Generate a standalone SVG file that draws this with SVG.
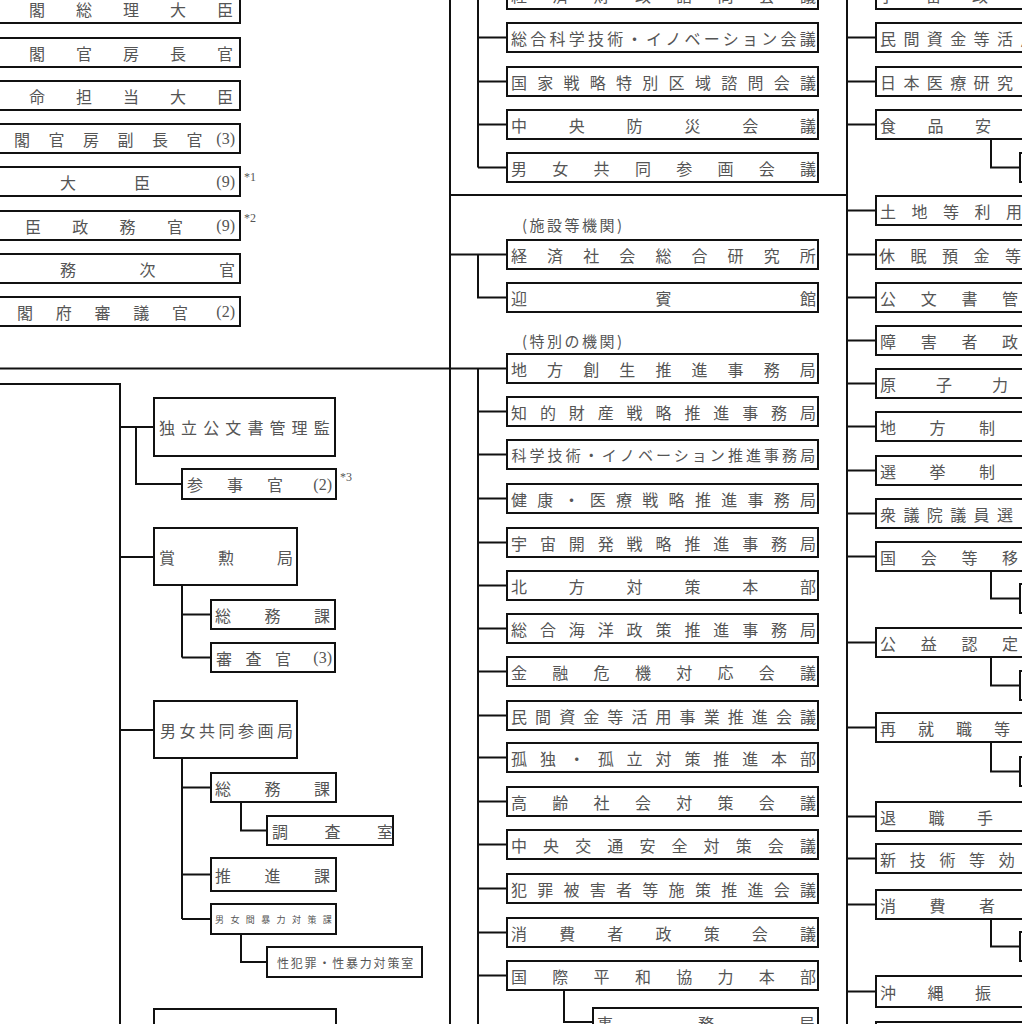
<svg xmlns="http://www.w3.org/2000/svg" width="1022" height="1024" viewBox="0 0 1022 1024">
<style>
.bx{fill:#fff;stroke:#111;stroke-width:2}
.ln{fill:none;stroke:#111;stroke-width:2}
.t{font-family:"Noto Sans CJK JP","Noto Sans CJK SC",sans-serif;font-size:16px;fill:#555;dominant-baseline:central}
.p{font-family:"Liberation Serif",serif;font-size:16px;fill:#555;dominant-baseline:central;text-anchor:end}
.n{font-family:"Liberation Serif",serif;font-size:12px;fill:#555}
.lb{font-family:"Noto Sans CJK JP","Noto Sans CJK SC",sans-serif;font-size:15px;fill:#555;dominant-baseline:central;letter-spacing:2.5px}
</style>
<rect width="1022" height="1024" fill="#fff"/>
<g id="connectors">
<path class="ln" d="M450 0V1024"/>
<path class="ln" d="M478 0V167.5M478 37.5H507M478 81.5H507M478 124.5H507M478 167.5H507"/>
<path class="ln" d="M450 195H847"/>
<path class="ln" d="M450 254.5H507M478 254.5V297.5H507"/>
<path class="ln" d="M0 368.5H507M478 368.5V1024"/>
<path class="ln" d="M478 411.5H507M478 454.5H507M478 498.5H507M478 542.5H507M478 585.5H507M478 628.5H507M478 671.5H507M478 715.5H507M478 757.5H507M478 801.5H507M478 844.5H507M478 888.5H507M478 932.5H507M478 975.5H507"/>
<path class="ln" d="M564 990V1022H593"/>
<path class="ln" d="M847 0V1024"/>
<path class="ln" d="M847 37.5H876M847 81.5H876M847 124.5H876M847 210.5H876M847 254.5H876M847 297.5H876M847 340.5H876M847 383.5H876M847 426.5H876M847 470.5H876M847 513.5H876M847 556.5H876M847 642.5H876M847 727.5H876M847 816.5H876M847 858.5H876M847 904.5H876M847 991.5H876"/>
<path class="ln" d="M991 139V167.5H1020M991 571V598.5H1020M991 657V685.5H1020M991 742V771.5H1020M991 919V946.5H1020"/>
<path class="ln" d="M0 384H120V1024"/>
<path class="ln" d="M120 427H154M136 427V484H182"/>
<path class="ln" d="M120 557H154M182 585V657.5M182 614.5H211M182 657.5H211"/>
<path class="ln" d="M120 730H154M182 758V919M182 787.5H211M182 874.5H211M182 919H211"/>
<path class="ln" d="M241 802V830.5H267M241 934V962H267"/>
</g>
<g id="cab-pm"><rect class="bx" x="-10" y="-6" width="250" height="29"/><text class="t" x="29" y="8.5" letter-spacing="31">閣総理大臣</text></g>
<g id="cab-cs"><rect class="bx" x="-10" y="38" width="250" height="29"/><text class="t" x="29" y="52.5" letter-spacing="31">閣官房長官</text></g>
<g id="cab-sp"><rect class="bx" x="-10" y="81" width="250" height="29"/><text class="t" x="29" y="95.5" letter-spacing="31">命担当大臣</text></g>
<g id="cab-dcs"><rect class="bx" x="-10" y="124" width="250" height="29"/><text class="t" x="14" y="138.5" letter-spacing="18.5">閣官房副長官</text><text class="p" x="235" y="138.5">(3)</text></g>
<g id="cab-vm"><rect class="bx" x="-10" y="167" width="250" height="29"/><text class="t" x="60" y="181.5" letter-spacing="58">大臣</text><text class="p" x="235" y="181.5">(9)</text><text class="n" x="244" y="181">*1</text></g>
<g id="cab-pv"><rect class="bx" x="-10" y="211" width="250" height="29"/><text class="t" x="25" y="225.5" letter-spacing="31.3">臣政務官</text><text class="p" x="235" y="225.5">(9)</text><text class="n" x="244" y="222">*2</text></g>
<g id="cab-av"><rect class="bx" x="-10" y="254" width="250" height="29"/><text class="t" x="60" y="268.5" letter-spacing="63.5">務次官</text></g>
<g id="cab-co"><rect class="bx" x="-10" y="297" width="250" height="29"/><text class="t" x="17" y="311.5" letter-spacing="22.75">閣府審議官</text><text class="p" x="235" y="311.5">(2)</text></g>
<g id="m01"><rect class="bx" x="507" y="-20" width="311" height="29"/><text class="t" x="511" y="-5.5" letter-spacing="25.3">経済財政諮問会議</text></g>
<g id="m02"><rect class="bx" x="507" y="23" width="311" height="29"/><text class="t" x="511" y="37.5" letter-spacing="3.27">総合科学技術・イノベーション会議</text></g>
<g id="m03"><rect class="bx" x="507" y="67" width="311" height="29"/><text class="t" x="511" y="81.5" letter-spacing="10.27">国家戦略特別区域諮問会議</text></g>
<g id="m04"><rect class="bx" x="507" y="110" width="311" height="29"/><text class="t" x="511" y="124.5" letter-spacing="41.8">中央防災会議</text></g>
<g id="m05"><rect class="bx" x="507" y="153" width="311" height="29"/><text class="t" x="511" y="167.5" letter-spacing="25.3">男女共同参画会議</text></g>
<g id="lbl-fac"><text class="lb" x="522" y="224">(施設等機関)</text></g>
<g id="m06"><rect class="bx" x="507" y="240" width="311" height="29"/><text class="t" x="511" y="254.5" letter-spacing="20.1">経済社会総合研究所</text></g>
<g id="m07"><rect class="bx" x="507" y="283" width="311" height="29"/><text class="t" x="511" y="297.5" letter-spacing="128.5">迎賓館</text></g>
<g id="lbl-spc"><text class="lb" x="522" y="340">(特別の機関)</text></g>
<g id="m08"><rect class="bx" x="507" y="354" width="311" height="29"/><text class="t" x="511" y="368.5" letter-spacing="20.1">地方創生推進事務局</text></g>
<g id="m09"><rect class="bx" x="507" y="397" width="311" height="29"/><text class="t" x="511" y="411.5" letter-spacing="12.9">知的財産戦略推進事務局</text></g>
<g id="m10"><rect class="bx" x="507" y="440" width="311" height="29"/><text class="t" x="511.5" y="454.5" style="font-size:15px" letter-spacing="3.06">科学技術・イノベーション推進事務局</text></g>
<g id="m11"><rect class="bx" x="507" y="484" width="311" height="29"/><text class="t" x="511" y="498.5" letter-spacing="10.27">健康・医療戦略推進事務局</text></g>
<g id="m12"><rect class="bx" x="507" y="528" width="311" height="29"/><text class="t" x="511" y="542.5" letter-spacing="12.9">宇宙開発戦略推進事務局</text></g>
<g id="m13"><rect class="bx" x="507" y="571" width="311" height="29"/><text class="t" x="511" y="585.5" letter-spacing="41.8">北方対策本部</text></g>
<g id="m14"><rect class="bx" x="507" y="614" width="311" height="29"/><text class="t" x="511" y="628.5" letter-spacing="12.9">総合海洋政策推進事務局</text></g>
<g id="m15"><rect class="bx" x="507" y="657" width="311" height="29"/><text class="t" x="511" y="671.5" letter-spacing="25.3">金融危機対応会議</text></g>
<g id="m16"><rect class="bx" x="507" y="701" width="311" height="29"/><text class="t" x="511" y="715.5" letter-spacing="8.08">民間資金等活用事業推進会議</text></g>
<g id="m17"><rect class="bx" x="507" y="743" width="311" height="29"/><text class="t" x="511" y="757.5" letter-spacing="12.9">孤独・孤立対策推進本部</text></g>
<g id="m18"><rect class="bx" x="507" y="787" width="311" height="29"/><text class="t" x="511" y="801.5" letter-spacing="25.3">高齢社会対策会議</text></g>
<g id="m19"><rect class="bx" x="507" y="830" width="311" height="29"/><text class="t" x="511" y="844.5" letter-spacing="16.1">中央交通安全対策会議</text></g>
<g id="m20"><rect class="bx" x="507" y="874" width="311" height="29"/><text class="t" x="511" y="888.5" letter-spacing="10.27">犯罪被害者等施策推進会議</text></g>
<g id="m21"><rect class="bx" x="507" y="918" width="311" height="29"/><text class="t" x="511" y="932.5" letter-spacing="32.17">消費者政策会議</text></g>
<g id="m22"><rect class="bx" x="507" y="961" width="311" height="29"/><text class="t" x="511" y="975.5" letter-spacing="25.3">国際平和協力本部</text></g>
<g id="m23"><rect class="bx" x="593" y="1008" width="225" height="29"/><text class="t" x="597" y="1022.5" letter-spacing="85">事務局</text></g>
<g id="r00"><rect class="bx" x="876" y="-20" width="200" height="29"/><text class="t" x="879" y="-5.5" letter-spacing="30.5">宇宙政</text></g>
<g id="r01"><rect class="bx" x="876" y="23" width="200" height="29"/><text class="t" x="880" y="37.5" letter-spacing="7.4">民間資金等活用</text></g>
<g id="r02"><rect class="bx" x="876" y="67" width="200" height="29"/><text class="t" x="880" y="81.5" letter-spacing="7.4">日本医療研究</text></g>
<g id="r03"><rect class="bx" x="876" y="110" width="200" height="29"/><text class="t" x="880" y="124.5" letter-spacing="31.5">食品安</text></g>
<g id="r03s"><rect class="bx" x="1020" y="153" width="100" height="29"/></g>
<g id="r04"><rect class="bx" x="876" y="196" width="200" height="29"/><text class="t" x="880" y="210.5" letter-spacing="15.5">土地等利用</text></g>
<g id="r05"><rect class="bx" x="876" y="240" width="200" height="29"/><text class="t" x="879" y="254.5" letter-spacing="15.5">休眠預金等</text></g>
<g id="r06"><rect class="bx" x="876" y="283" width="200" height="29"/><text class="t" x="880" y="297.5" letter-spacing="24.7">公文書管</text></g>
<g id="r07"><rect class="bx" x="876" y="326" width="200" height="29"/><text class="t" x="880" y="340.5" letter-spacing="24.7">障害者政</text></g>
<g id="r08"><rect class="bx" x="876" y="369" width="200" height="29"/><text class="t" x="880" y="383.5" letter-spacing="40">原子力</text></g>
<g id="r09"><rect class="bx" x="876" y="412" width="200" height="29"/><text class="t" x="880" y="426.5" letter-spacing="33.5">地方制</text></g>
<g id="r10"><rect class="bx" x="876" y="456" width="200" height="29"/><text class="t" x="880" y="470.5" letter-spacing="33.5">選挙制</text></g>
<g id="r11"><rect class="bx" x="876" y="499" width="200" height="29"/><text class="t" x="880" y="513.5" letter-spacing="7.4">衆議院議員選</text></g>
<g id="r12"><rect class="bx" x="876" y="542" width="200" height="29"/><text class="t" x="880" y="556.5" letter-spacing="24.7">国会等移</text></g>
<g id="r12s"><rect class="bx" x="1020" y="584" width="100" height="29"/></g>
<g id="r13"><rect class="bx" x="876" y="628" width="200" height="29"/><text class="t" x="880" y="642.5" letter-spacing="24.7">公益認定</text></g>
<g id="r13s"><rect class="bx" x="1020" y="671" width="100" height="29"/></g>
<g id="r14"><rect class="bx" x="876" y="713" width="200" height="29"/><text class="t" x="880" y="727.5" letter-spacing="22">再就職等</text></g>
<g id="r14s"><rect class="bx" x="1020" y="757" width="100" height="29"/></g>
<g id="r15"><rect class="bx" x="876" y="802" width="200" height="29"/><text class="t" x="880" y="816.5" letter-spacing="32.5">退職手</text></g>
<g id="r16"><rect class="bx" x="876" y="844" width="200" height="29"/><text class="t" x="880" y="858.5" letter-spacing="13.7">新技術等効</text></g>
<g id="r17"><rect class="bx" x="876" y="890" width="200" height="29"/><text class="t" x="880" y="904.5" letter-spacing="33.5">消費者</text></g>
<g id="r17s"><rect class="bx" x="1020" y="932" width="100" height="29"/></g>
<g id="r18"><rect class="bx" x="876" y="976" width="200" height="31"/><text class="t" x="880" y="991.5" letter-spacing="31.5">沖縄振</text></g>
<g id="r19"><rect class="bx" x="876" y="1022" width="200" height="29"/></g>
<g id="l-kobunsho"><rect class="bx" x="154" y="398" width="181" height="58"/><text class="t" x="159" y="427" letter-spacing="6.1">独立公文書管理監</text></g>
<g id="l-sanjikan"><rect class="bx" x="182" y="469" width="154" height="30"/><text class="t" x="187" y="484" letter-spacing="24">参事官</text><text class="p" x="332" y="484">(2)</text><text class="n" x="340" y="481">*3</text></g>
<g id="l-shokun"><rect class="bx" x="154" y="528" width="143" height="57"/><text class="t" x="159" y="557" letter-spacing="43">賞勲局</text></g>
<g id="l-shokun-somu"><rect class="bx" x="211" y="600" width="124" height="29"/><text class="t" x="215" y="614.5" letter-spacing="33.5">総務課</text></g>
<g id="l-shokun-shinsa"><rect class="bx" x="211" y="643" width="124" height="29"/><text class="t" x="216" y="657.5" letter-spacing="13.5">審査官</text><text class="p" x="332" y="657.5">(3)</text></g>
<g id="l-danjo"><rect class="bx" x="154" y="701" width="143" height="57"/><text class="t" x="160" y="730" letter-spacing="3.5">男女共同参画局</text></g>
<g id="l-danjo-somu"><rect class="bx" x="211" y="773" width="125" height="29"/><text class="t" x="215" y="787.5" letter-spacing="33.5">総務課</text></g>
<g id="l-chosa"><rect class="bx" x="267" y="816" width="126" height="29"/><text class="t" x="272" y="830.5" letter-spacing="36.5">調査室</text></g>
<g id="l-suishin"><rect class="bx" x="211" y="858" width="125" height="33"/><text class="t" x="215" y="874.5" letter-spacing="33.5">推進課</text></g>
<g id="l-boryoku"><rect class="bx" x="211" y="904" width="125" height="30"/><text class="t" x="215" y="919" style="font-size:9px" letter-spacing="6.4">男女間暴力対策課</text></g>
<g id="l-seihanzai"><rect class="bx" x="267" y="947" width="155" height="30"/><text class="t" x="277" y="962" style="font-size:12px" letter-spacing="1.8">性犯罪・性暴力対策室</text></g>
<g id="l-bottom"><rect class="bx" x="154" y="1009" width="182" height="40"/></g>
</svg>
